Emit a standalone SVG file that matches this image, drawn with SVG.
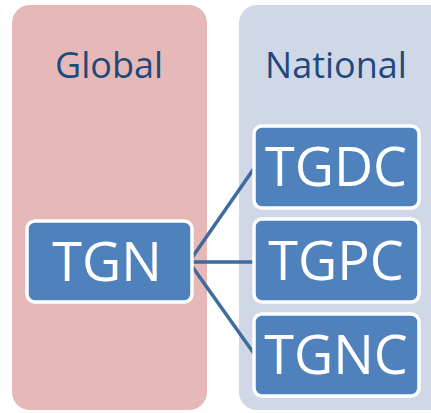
<svg xmlns="http://www.w3.org/2000/svg" width="431" height="413" viewBox="0 0 431 413">
<style>
.panel{stroke:none}
.box{fill:#4f81bd;stroke:#ffffff;stroke-width:3.5}
.title{font-family:"Open Sans","Liberation Sans",sans-serif;font-size:36px;fill:#1f497d;text-anchor:middle}
.lbl{font-family:"Open Sans","Liberation Sans",sans-serif;font-size:54px;fill:#ffffff;text-anchor:middle}
.conn{stroke:#3e6a9c;stroke-width:3.5;fill:none}
</style>
<rect width="431" height="413" fill="#ffffff"/>
<g id="global-panel">
<rect class="panel" x="12" y="5" width="195" height="405" rx="18" fill="#e6b9b8"/>
<text class="title" x="109" y="78">Global</text>
</g>
<g id="national-panel">
<rect class="panel" x="239" y="5" width="210" height="405" rx="18" fill="#d0d8e8"/>
<text class="title" x="336" y="78">National</text>
</g>
<g id="connectors">
<line class="conn" x1="189" y1="262" x2="255" y2="167"/>
<line class="conn" x1="189" y1="262" x2="255" y2="262"/>
<line class="conn" x1="189" y1="262" x2="255" y2="355"/>
</g>
<g id="TGN">
<rect class="box" x="27" y="221" width="165" height="81" rx="8"/>
<text class="lbl" x="107" y="281">TGN</text>
</g>
<g id="TGDC">
<rect class="box" x="254" y="126" width="165" height="82" rx="8"/>
<text class="lbl" x="336" y="186">TGDC</text>
</g>
<g id="TGPC">
<rect class="box" x="254" y="219" width="165" height="83" rx="8"/>
<text class="lbl" x="336" y="280">TGPC</text>
</g>
<g id="TGNC">
<rect class="box" x="254" y="314" width="165" height="82" rx="8"/>
<text class="lbl" x="336" y="374">TGNC</text>
</g>
</svg>
